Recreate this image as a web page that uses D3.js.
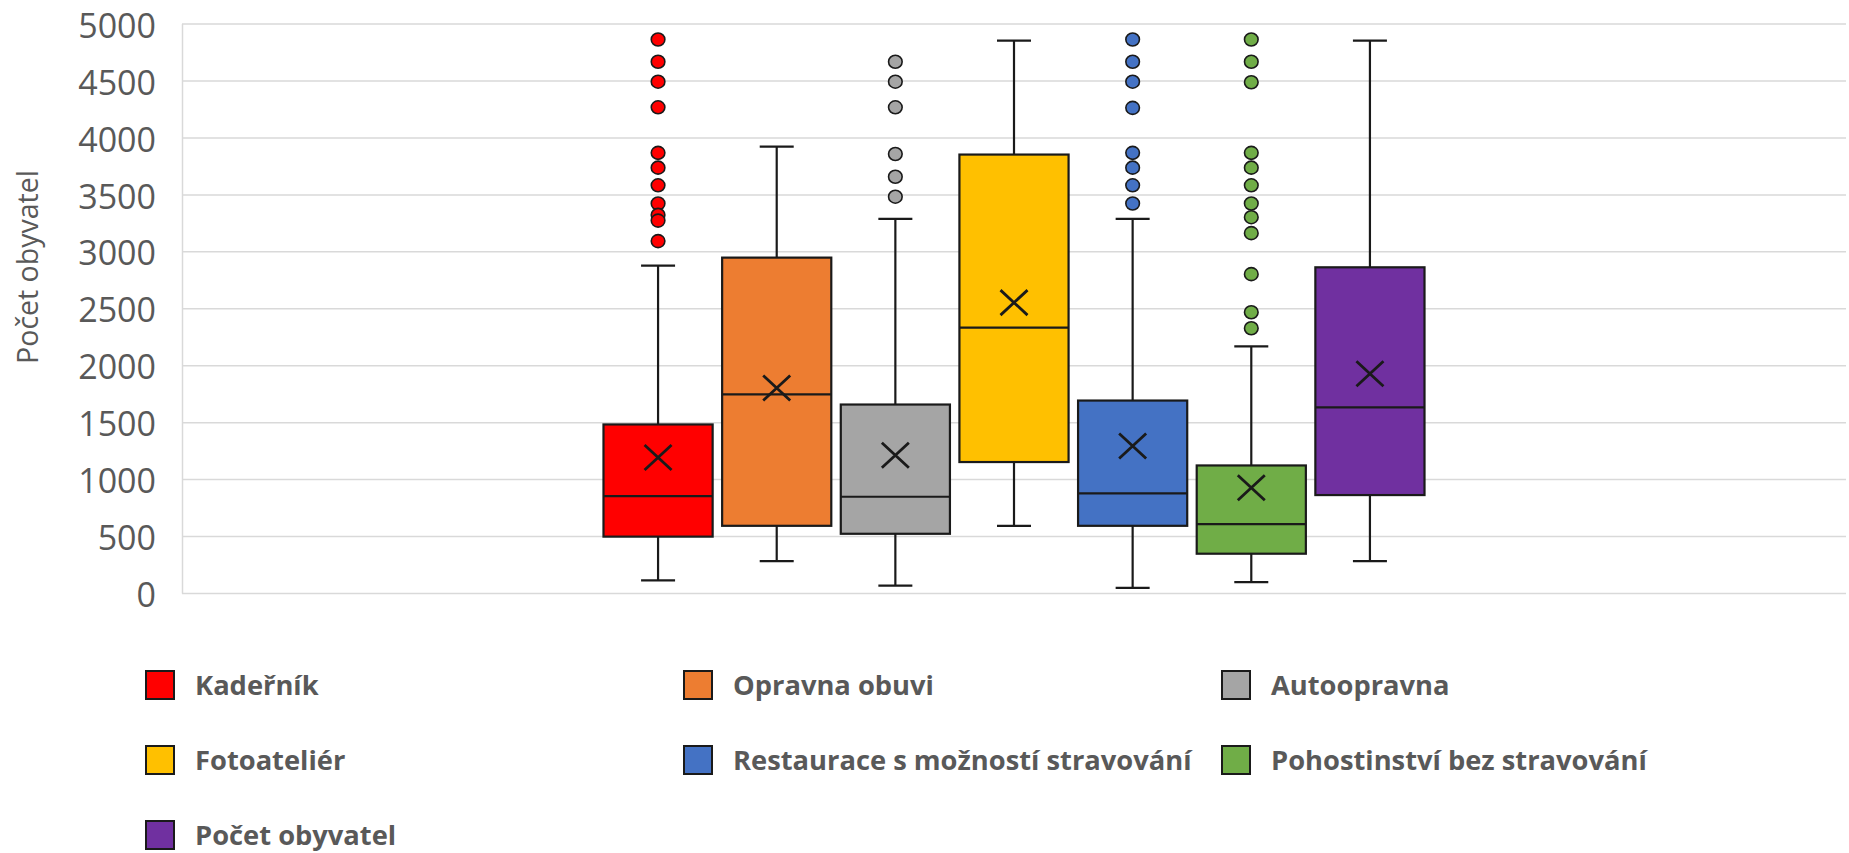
<!DOCTYPE html>
<html>
<head>
<meta charset="utf-8">
<script src="https://cdn.jsdelivr.net/npm/d3@7"></script>
<style>
  html, body { margin: 0; padding: 0; background: #fff; }
  svg { display: block; }
</style>
</head>
<body>
<svg id="chart"></svg>
<script>
// series (one category, seven box plots)
const series = ["Kadeřník", "Opravna obuvi", "Autoopravna", "Fotoateliér",
  "Restaurace s možností stravování", "Pohostinství bez stravování", "Počet obyvatel"];
const colors = ["#FF0000", "#ED7D31", "#A5A5A5", "#FFC000", "#4472C4", "#70AD47", "#7030A0"];

const whiskerLow  = [110, 280, 65, 590, 45, 95, 280];
const q1          = [495, 590, 520, 1150, 590, 345, 860];
const median      = [850, 1745, 845, 2330, 875, 605, 1630];
const q3          = [1480, 2945, 1655, 3850, 1690, 1120, 2860];
const whiskerHigh = [2875, 3920, 3285, 4850, 3285, 2165, 4850];
const mean        = [1190, 1800, 1210, 2550, 1290, 925, 1925];
const outliers = [
  [4860, 4665, 4490, 4265, 3865, 3735, 3580, 3420, 3320, 3270, 3090],
  [],
  [4665, 4490, 4265, 3855, 3655, 3480],
  [],
  [4860, 4665, 4490, 4260, 3865, 3735, 3580, 3420],
  [4860, 4665, 4485, 3865, 3735, 3580, 3420, 3300, 3160, 2800, 2465, 2325],
  []
];
const yTicks = [0, 500, 1000, 1500, 2000, 2500, 3000, 3500, 4000, 4500, 5000];
const yTitle = "Počet obyvatel";

const width = 1849, height = 853;
const plotLeft = 182, plotRight = 1846, plotTop = 23.6, plotBottom = 593;
const textColor = "#595959";

const svg = d3.select("#chart").attr("width", width).attr("height", height);

const y = d3.scaleLinear().domain([0, 5000]).range([plotBottom, plotTop]);
const xCat = d3.scaleBand().domain(["all"]).range([plotLeft, plotRight]).paddingOuter(0.25);
const xMid = xCat("all") + xCat.bandwidth() / 2;
const x = d3.scaleBand().domain(series).range([xMid - 420, xMid + 420]).padding(0.08);
const bw = x.bandwidth();

// gridlines + y axis
const yAxis = svg.append("g")
  .attr("transform", `translate(${plotLeft},0)`)
  .call(d3.axisLeft(y).tickValues(yTicks).tickFormat(d3.format("d"))
    .tickSize(-(plotRight - plotLeft)).tickSizeOuter(0).tickPadding(26));
yAxis.select(".domain").attr("stroke", "#d9d9d9").attr("stroke-width", 1.5);
yAxis.selectAll(".tick line").attr("stroke", "#d9d9d9").attr("stroke-width", 1.5);
yAxis.selectAll(".tick text")
  .attr("fill", textColor)
  .attr("font-family", "'Open Sans', sans-serif")
  .attr("font-size", 34)
  .attr("dy", "0.4em");

svg.append("text")
  .attr("transform", `translate(28,267) rotate(-90)`)
  .attr("text-anchor", "middle")
  .attr("dy", "0.35em")
  .attr("fill", textColor)
  .attr("font-family", "'Open Sans', sans-serif")
  .attr("font-size", 28.5)
  .text(yTitle);

// boxes
const idx = d3.range(series.length);
const boxes = svg.append("g").selectAll("g").data(idx).join("g");

// whiskers
boxes.append("line")
  .attr("x1", i => x(series[i]) + bw / 2).attr("x2", i => x(series[i]) + bw / 2)
  .attr("y1", i => y(whiskerLow[i])).attr("y2", i => y(q1[i]))
  .attr("stroke", "#1a1a1a").attr("stroke-width", 2.2);
boxes.append("line")
  .attr("x1", i => x(series[i]) + bw / 2).attr("x2", i => x(series[i]) + bw / 2)
  .attr("y1", i => y(q3[i])).attr("y2", i => y(whiskerHigh[i]))
  .attr("stroke", "#1a1a1a").attr("stroke-width", 2.2);
[whiskerLow, whiskerHigh].forEach(arr => {
  boxes.append("line")
    .attr("x1", i => x(series[i]) + bw / 2 - 17).attr("x2", i => x(series[i]) + bw / 2 + 17)
    .attr("y1", i => y(arr[i])).attr("y2", i => y(arr[i]))
    .attr("stroke", "#1a1a1a").attr("stroke-width", 2.2);
});

boxes.append("rect")
  .attr("x", i => x(series[i]))
  .attr("width", bw)
  .attr("y", i => y(q3[i]))
  .attr("height", i => y(q1[i]) - y(q3[i]))
  .attr("fill", i => colors[i])
  .attr("stroke", "#1a1a1a").attr("stroke-width", 2.2);

boxes.append("line")
  .attr("x1", i => x(series[i])).attr("x2", i => x(series[i]) + bw)
  .attr("y1", i => y(median[i])).attr("y2", i => y(median[i]))
  .attr("stroke", "#1a1a1a").attr("stroke-width", 2.2);

// mean markers
boxes.append("path")
  .attr("d", i => {
    const cx = x(series[i]) + bw / 2, cy = y(mean[i]);
    return `M${cx - 13.5},${cy - 12.5}L${cx + 13.5},${cy + 12.5}M${cx - 13.5},${cy + 12.5}L${cx + 13.5},${cy - 12.5}`;
  })
  .attr("stroke", "#1a1a1a").attr("stroke-width", 2.8).attr("fill", "none");

// outliers
boxes.each(function (i) {
  d3.select(this).selectAll("ellipse").data(outliers[i]).join("ellipse")
    .attr("cx", x(series[i]) + bw / 2)
    .attr("cy", v => y(v))
    .attr("rx", 6.8).attr("ry", 6.5)
    .attr("fill", colors[i])
    .attr("stroke", "#1a1a1a").attr("stroke-width", 1.6);
});

// legend: 3 columns
const legendX = d3.scaleBand().domain([0, 1, 2]).range([145, 1759]);
const legendY = d3.scalePoint().domain([0, 1, 2]).range([685, 835]);
const legend = svg.append("g").selectAll("g").data(idx).join("g")
  .attr("transform", i => `translate(${legendX(i % 3)},${legendY(Math.floor(i / 3))})`);
legend.append("rect")
  .attr("x", 1).attr("y", -14).attr("width", 28).attr("height", 28)
  .attr("fill", i => colors[i]).attr("stroke", "#1a1a1a").attr("stroke-width", 2);
legend.append("text")
  .attr("x", 50).attr("dy", "0.35em")
  .attr("fill", textColor)
  .attr("font-family", "'Open Sans', sans-serif")
  .attr("font-weight", "bold")
  .attr("font-size", 27.3)
  .text(i => series[i]);
</script>
</body>
</html>
